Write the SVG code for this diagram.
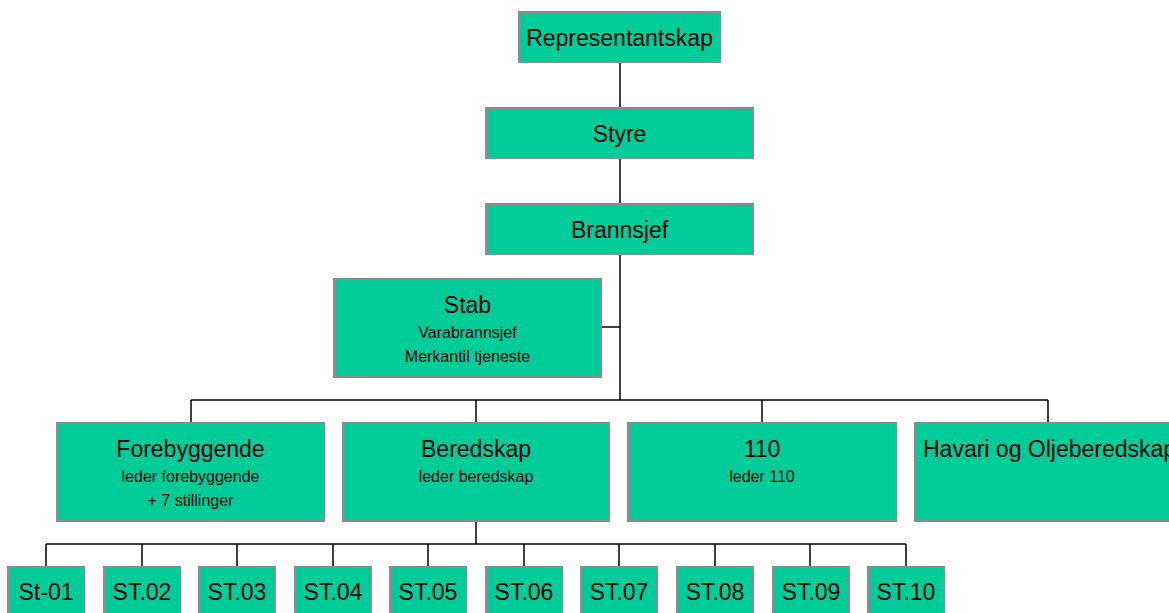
<svg xmlns="http://www.w3.org/2000/svg" width="1169" height="613" viewBox="0 0 1169 613">
<style>
.box{fill:#00CC99;stroke:#8c8c8c;stroke-width:2}
.t{font-family:"Liberation Sans",Arial,sans-serif;font-size:23px;fill:#000;text-anchor:middle}
.l{font-family:"Liberation Sans",Arial,sans-serif;font-size:23px;fill:#000;text-anchor:start}
.s{font-family:"Liberation Sans",Arial,sans-serif;font-size:16px;fill:#000;text-anchor:middle}
.c{stroke:#000;stroke-width:1.5;fill:none}
</style>
<rect width="1169" height="613" fill="#fff"/>
<g id="connectors">
<path class="c" d="M620 62V108M620 158V204M620 254V400M601 327H620M191 400H1048M191 400V423M476 400V423M762 400V423M1048 400V423M476 521V544M46 544H906M46 544V567M142 544V567M237 544V567M333 544V567M428 544V567M524 544V567M619 544V567M715 544V567M810 544V567M906 544V567"/>
</g>
<g id="representantskap"><rect class="box" x="519" y="12" width="201" height="50"/><text class="t" x="619.5" y="46">Representantskap</text></g>
<g id="styre"><rect class="box" x="486" y="108" width="267" height="50"/><text class="t" x="619.5" y="142">Styre</text></g>
<g id="brannsjef"><rect class="box" x="486" y="204" width="267" height="50"/><text class="t" x="619.5" y="238">Brannsjef</text></g>
<g id="stab"><rect class="box" x="334" y="279" width="267" height="98"/><text class="t" x="467.5" y="313">Stab</text><text class="s" x="467.5" y="338">Varabrannsjef</text><text class="s" x="467.5" y="362">Merkantil tjeneste</text></g>
<g id="forebyggende"><rect class="box" x="57" y="423" width="267" height="98"/><text class="t" x="190.5" y="457">Forebyggende</text><text class="s" x="190.5" y="482">leder forebyggende</text><text class="s" x="190.5" y="506">+ 7 stillinger</text></g>
<g id="beredskap"><rect class="box" x="343" y="423" width="266" height="98"/><text class="t" x="476" y="457">Beredskap</text><text class="s" x="476" y="482">leder beredskap</text></g>
<g id="n110"><rect class="box" x="628" y="423" width="268" height="98"/><text class="t" x="762" y="457">110</text><text class="s" x="762" y="482">leder 110</text></g>
<g id="havari"><rect class="box" x="915" y="423" width="268" height="98"/><text class="l" x="923" y="457">Havari og Oljeberedskap</text></g>
<g id="st01"><rect class="box" x="8" y="567" width="76" height="50"/><text class="t" x="46" y="600">St-01</text></g>
<g id="st02"><rect class="box" x="104" y="567" width="76" height="50"/><text class="t" x="142" y="600">ST.02</text></g>
<g id="st03"><rect class="box" x="199" y="567" width="76" height="50"/><text class="t" x="237" y="600">ST.03</text></g>
<g id="st04"><rect class="box" x="295" y="567" width="76" height="50"/><text class="t" x="333" y="600">ST.04</text></g>
<g id="st05"><rect class="box" x="390" y="567" width="76" height="50"/><text class="t" x="428" y="600">ST.05</text></g>
<g id="st06"><rect class="box" x="486" y="567" width="76" height="50"/><text class="t" x="524" y="600">ST.06</text></g>
<g id="st07"><rect class="box" x="581" y="567" width="76" height="50"/><text class="t" x="619" y="600">ST.07</text></g>
<g id="st08"><rect class="box" x="677" y="567" width="76" height="50"/><text class="t" x="715" y="600">ST.08</text></g>
<g id="st09"><rect class="box" x="773" y="567" width="76" height="50"/><text class="t" x="811" y="600">ST.09</text></g>
<g id="st10"><rect class="box" x="868" y="567" width="76" height="50"/><text class="t" x="906" y="600">ST.10</text></g>
</svg>
